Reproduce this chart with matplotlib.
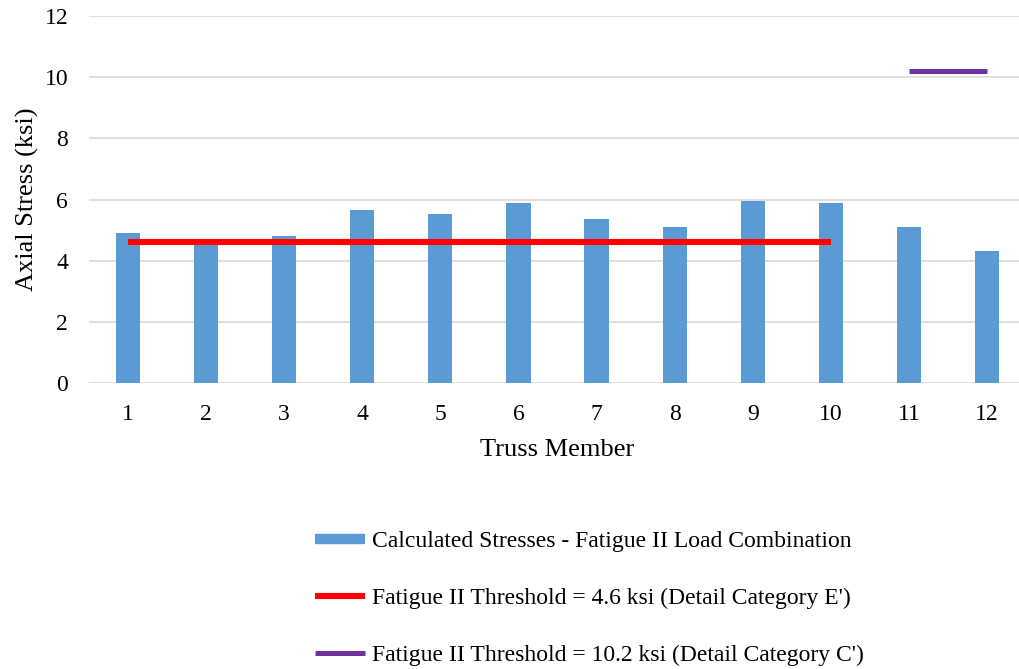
import matplotlib
matplotlib.use("Agg")
import matplotlib.pyplot as plt
from matplotlib.lines import Line2D

members = ["1", "2", "3", "4", "5", "6", "7", "8", "9", "10", "11", "12"]
stresses = [4.89, 4.55, 4.82, 5.67, 5.54, 5.87, 5.35, 5.09, 5.94, 5.87, 5.09, 4.30]
threshold_e = 4.6
threshold_c = 10.2
e_span = ("1", "10")
c_span = ("11", "12")
y_ticks = [0, 2, 4, 6, 8, 10, 12]

bar_color = "#5B9BD5"
red = "#FF0000"
purple = "#7030A0"
grid_color = "#D9D9D9"

plt.rcParams["font.family"] = ["Liberation Serif", "DejaVu Serif"]

fig = plt.figure(figsize=(10.19, 6.69), dpi=100)
W, H = 1019, 669
left, right = 89, 1026
top, bottom = 16, 383
ax = fig.add_axes([left / W, 1 - bottom / H, (right - left) / W, (bottom - top) / H])

x = list(range(len(members)))
ax.bar(x, stresses, width=0.31, color=bar_color, zorder=2)

i0, i1 = members.index(e_span[0]), members.index(e_span[1])
ax.plot([i0, i1], [threshold_e, threshold_e], color=red, lw=4.4,
        solid_capstyle="butt", zorder=3)
j0, j1 = members.index(c_span[0]), members.index(c_span[1])
ax.plot([j0, j1], [threshold_c, threshold_c], color=purple, lw=3.6,
        solid_capstyle="butt", zorder=3)

ax.set_xlim(-0.5, len(members) - 0.5)
ax.set_ylim(0, 12)
ax.set_yticks(y_ticks)
ax.set_xticks(x)
ax.set_xticklabels(members)
ax.yaxis.grid(True, color=grid_color, lw=1.2, zorder=0)
ax.set_axisbelow(True)
for s in ax.spines.values():
    s.set_visible(False)
ax.tick_params(axis="both", length=0, labelsize=17, colors="#000000")
ax.tick_params(axis="y", pad=15)
ax.tick_params(axis="x", pad=15)
ax.set_xlabel("Truss Member", fontsize=19, labelpad=10)
ax.set_ylabel("Axial Stress (ksi)", fontsize=19, labelpad=4)

handles = [
    Line2D([], [], color=bar_color, lw=7.5, solid_capstyle="butt"),
    Line2D([], [], color=red, lw=4.4, solid_capstyle="butt"),
    Line2D([], [], color=purple, lw=3.6, solid_capstyle="butt"),
]
labels = [
    "Calculated Stresses - Fatigue II Load Combination",
    "Fatigue II Threshold = 4.6 ksi (Detail Category E')",
    "Fatigue II Threshold = 10.2 ksi (Detail Category C')",
]
fig.legend(handles, labels, loc="upper left", bbox_to_anchor=(306 / W, 1 - 521 / H),
           frameon=False, fontsize=17, handlelength=2.1, handletextpad=0.3,
           labelspacing=1.5, borderaxespad=0)

fig.savefig("out.png", dpi=100)
